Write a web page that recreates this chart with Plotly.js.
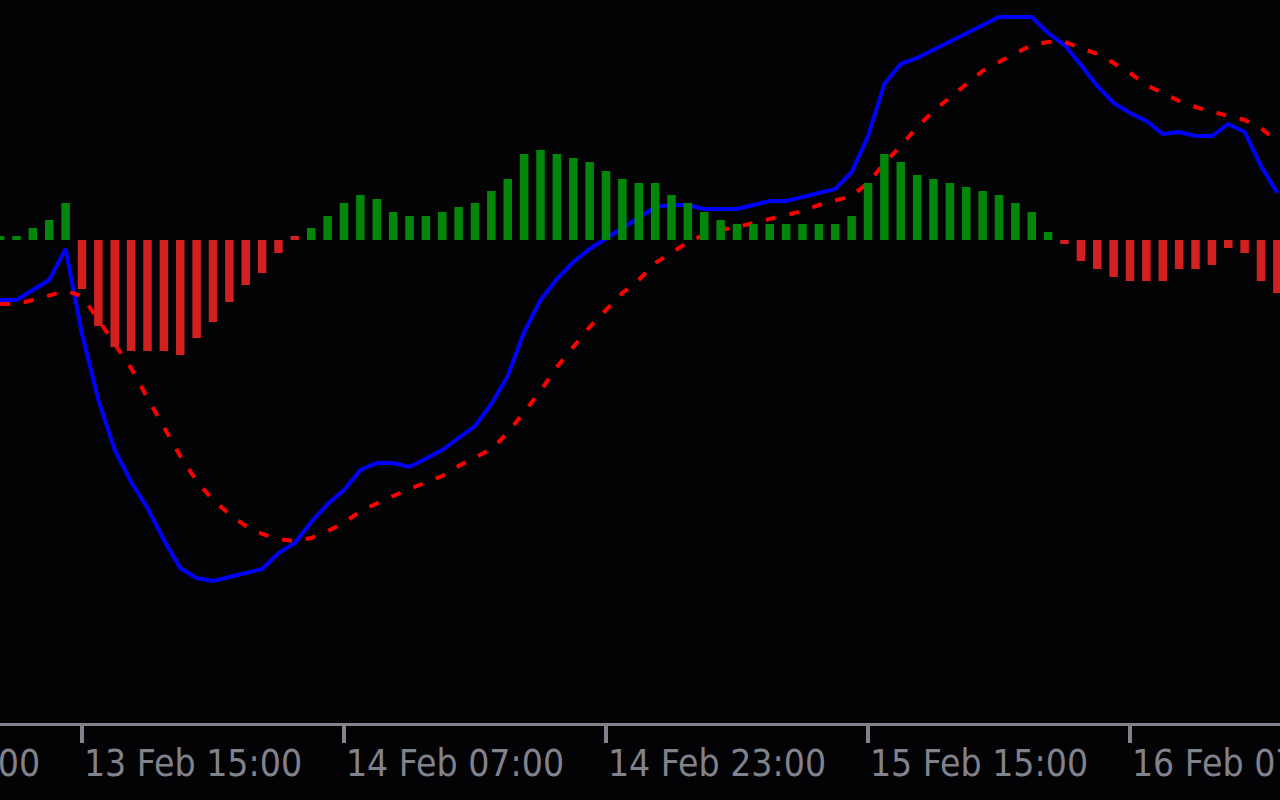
<!DOCTYPE html>
<html>
<head>
<meta charset="utf-8">
<script src="https://cdn.plot.ly/plotly-3.0.1.min.js"></script>
<style>
  html, body { margin: 0; padding: 0; background: #030305; overflow: hidden; width: 1280px; height: 800px; }
  #chart { position: absolute; left: -200px; top: 0; width: 1480px; height: 800px; }
</style>
</head>
<body>
<div id="chart"></div>
<script>
// Hourly bars, first bar = 13 Feb 10:00
const firstBarTime = '2024-02-13 10:00';

// MACD histogram buffers (green = up buffer, red = down buffer)
const greenBars = [0.04,0.04,0.12,0.20,0.37,null,null,null,null,null,
  null,null,null,null,null,null,null,null,null,0.12,
  0.24,0.37,0.45,0.41,0.28,0.24,0.24,0.28,0.33,0.37,
  0.49,0.61,0.86,0.90,0.86,0.82,0.78,0.69,0.61,0.57,
  0.57,0.45,0.37,0.28,0.20,0.16,0.16,0.16,0.16,0.16,
  0.16,0.16,0.24,0.57,0.86,0.78,0.65,0.61,0.57,0.53,
  0.49,0.45,0.37,0.28,0.08,null,null,null,null,null,
  null,null,null,null,null,null,null,null,null];
const redBars = [null,null,null,null,null,-0.49,-0.86,-1.07,-1.11,-1.11,
  -1.11,-1.15,-0.98,-0.82,-0.62,-0.45,-0.33,-0.13,0.04,null,
  null,null,null,null,null,null,null,null,null,null,
  null,null,null,null,null,null,null,null,null,null,
  null,null,null,null,null,null,null,null,null,null,
  null,null,null,null,null,null,null,null,null,null,
  null,null,null,null,null,-0.04,-0.21,-0.29,-0.37,-0.41,
  -0.41,-0.41,-0.29,-0.29,-0.25,-0.08,-0.13,-0.41,-0.53];

// MACD main line (blue)
const macdLine = [-0.60,-0.60,-0.50,-0.40,-0.09,-0.94,-1.60,-2.10,-2.42,-2.68,
  -3.00,-3.28,-3.38,-3.41,-3.37,-3.33,-3.29,-3.13,-3.03,-2.82,
  -2.64,-2.50,-2.30,-2.23,-2.23,-2.27,-2.19,-2.10,-1.98,-1.86,
  -1.64,-1.36,-0.92,-0.60,-0.39,-0.22,-0.09,0.02,0.12,0.22,
  0.33,0.35,0.35,0.31,0.31,0.31,0.35,0.39,0.39,0.43,
  0.47,0.51,0.68,1.04,1.56,1.76,1.82,1.90,1.98,2.06,
  2.14,2.23,2.23,2.23,2.07,1.95,1.75,1.54,1.37,1.27,
  1.19,1.06,1.08,1.04,1.04,1.16,1.08,0.74,0.47];

// Signal line (red dotted)
const signalLine = [-0.64,-0.64,-0.60,-0.55,-0.51,-0.56,-0.80,-1.04,-1.28,-1.58,
  -1.87,-2.16,-2.41,-2.60,-2.74,-2.86,-2.94,-2.99,-3.01,-2.98,
  -2.91,-2.83,-2.71,-2.63,-2.56,-2.49,-2.43,-2.36,-2.26,-2.18,
  -2.09,-1.93,-1.72,-1.51,-1.27,-1.07,-0.87,-0.70,-0.53,-0.40,
  -0.23,-0.13,-0.02,0.05,0.10,0.13,0.17,0.22,0.26,0.29,
  0.35,0.39,0.44,0.57,0.77,0.94,1.13,1.29,1.42,1.56,
  1.69,1.78,1.87,1.95,1.98,1.98,1.92,1.86,1.77,1.67,
  1.55,1.47,1.39,1.33,1.28,1.24,1.20,1.12,0.98];

// Axis ticks
const tickTimes = ['2024-02-12 23:00','2024-02-13 15:00','2024-02-14 07:00','2024-02-14 23:00','2024-02-15 15:00','2024-02-16 07:00'];
const tickLabels = ['12 Feb 23:00','13 Feb 15:00','14 Feb 07:00','14 Feb 23:00','15 Feb 15:00','16 Feb 07:00'];

// ---- helpers ----
const HOUR = 3600000;
function parseT(s){ const [d,t]=s.split(' '); const [Y,M,D]=d.split('-').map(Number); const [h,m]=t.split(':').map(Number); return Date.UTC(Y,M-1,D,h,m); }
function fmt(ms){ const d=new Date(ms); const p=n=>String(n).padStart(2,'0');
  return d.getUTCFullYear()+'-'+p(d.getUTCMonth()+1)+'-'+p(d.getUTCDate())+' '+p(d.getUTCHours())+':'+p(d.getUTCMinutes())+':'+p(d.getUTCSeconds())+'.'+String(d.getUTCMilliseconds()).padStart(3,'0'); }
const t0 = parseT(firstBarTime);
const times = macdLine.map((_, i) => fmt(t0 + i*HOUR));
const anchor = parseT(tickTimes[1]);
const xRange = [fmt(anchor - 17.221*HOUR), fmt(anchor + 73.16*HOUR)];

const gray = '#80828c';
const traces = [
  { type:'scatter', mode:'lines', x: times, y: macdLine, xaxis:'x', yaxis:'y',
    line:{color:'#0000ff', width:4}, hoverinfo:'skip' },
  { type:'scatter', mode:'lines', x: times, y: signalLine, xaxis:'x', yaxis:'y',
    line:{color:'#ff0000', width:4, dash:'10px,14px'}, hoverinfo:'skip' },
  { type:'bar', x: times, y: greenBars, xaxis:'x', yaxis:'y2',
    marker:{color:'#03870a', line:{width:0}}, width: 0.52*HOUR, hoverinfo:'skip' },
  { type:'bar', x: times, y: redBars, xaxis:'x', yaxis:'y2',
    marker:{color:'#d21f1f', line:{width:0}}, width: 0.52*HOUR, hoverinfo:'skip' }
];

const yr = [-4.83, 2.40];
const layout = {
  width:1480, height:800,
  margin:{l:0, r:0, t:0, b:77, pad:0},
  paper_bgcolor:'#030305', plot_bgcolor:'#030305',
  showlegend:false, barmode:'overlay',
  xaxis:{ type:'date', range:xRange, showgrid:false, zeroline:false,
    showline:true, linecolor:gray, linewidth:3,
    ticks:'outside', ticklen:17, tickwidth:4, tickcolor:gray,
    tickmode:'array', tickvals:tickTimes, ticktext:tickLabels,
    ticklabelshift:111, ticklabelstandoff:-11, ticklabeloverflow:'allow',
    tickfont:{family:'"Liberation Sans Narrow", "Arial Narrow", "DejaVu Sans Condensed", sans-serif', size:37, color:gray} },
  yaxis:{ range:yr, visible:false, showgrid:false, zeroline:false, fixedrange:true },
  yaxis2:{ range:yr, overlaying:'y', visible:false, showgrid:false, zeroline:false }
};

Plotly.newPlot('chart', traces, layout, {staticPlot:true, displayModeBar:false});
</script>
</body>
</html>
